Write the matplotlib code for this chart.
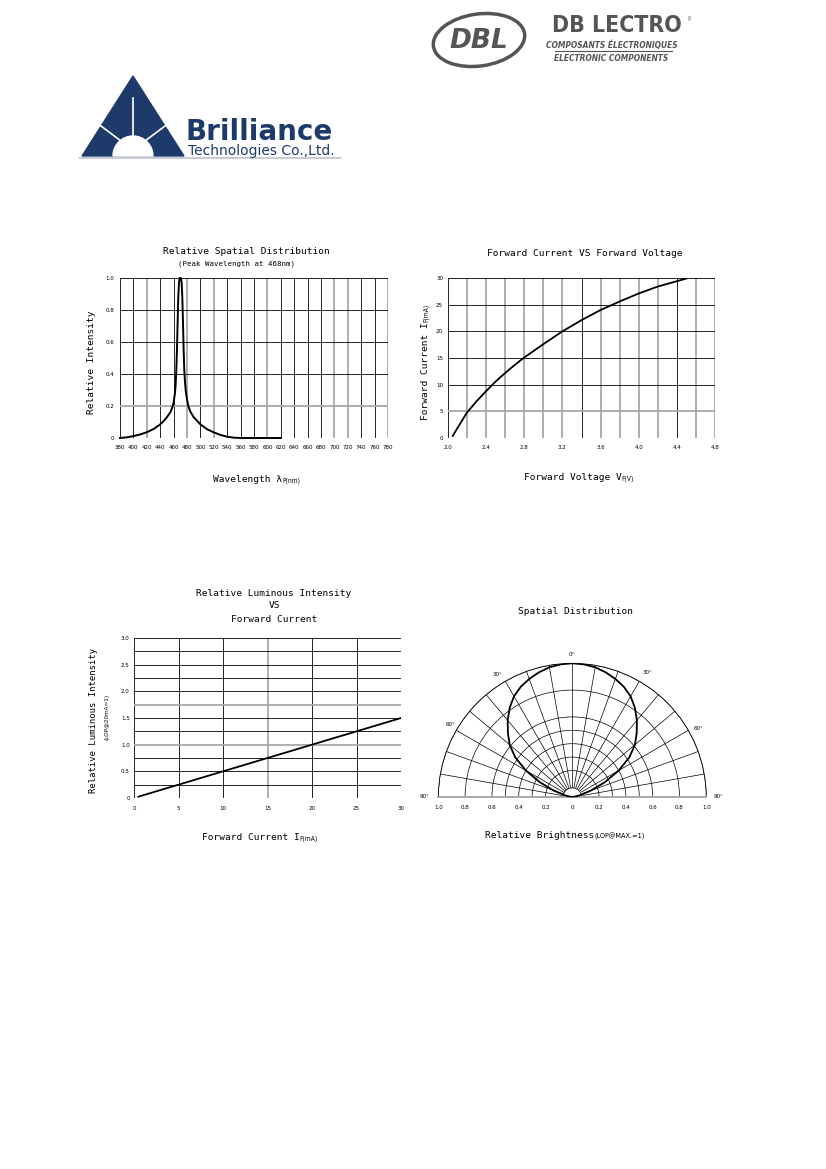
import numpy as np
import matplotlib
matplotlib.use('Agg')
import matplotlib.pyplot as plt
from matplotlib.patches import Polygon, Ellipse, Wedge

W, H = 826, 1169

# 1. 光谱分布
wavelength = [380, 390, 400, 410, 420, 430, 440, 445, 450, 455,
              458, 460, 462, 463, 464, 465, 466, 467, 468, 469,
              470, 471, 472, 473, 474, 475, 476, 477, 478, 480,
              482, 485, 490, 500, 510, 520, 530, 540, 550, 560,
              580, 600, 620]
rel_intensity = [0.0, 0.004, 0.012, 0.022, 0.036, 0.056, 0.085, 0.105, 0.13, 0.16,
                 0.19, 0.22, 0.28, 0.33, 0.42, 0.55, 0.72, 0.88, 0.97, 1.0,
                 1.0, 1.0, 0.97, 0.88, 0.72, 0.55, 0.42, 0.35, 0.30, 0.24,
                 0.20, 0.165, 0.13, 0.085, 0.055, 0.035, 0.019, 0.008, 0.002, 0.0,
                 0.0, 0.0, 0.0]

# 2. 正向电流 vs 正向电压
vf = [2.05, 2.1, 2.2, 2.3, 2.4, 2.5, 2.6, 2.7, 2.8, 3.0, 3.2, 3.4, 3.6, 3.8, 4.0, 4.2, 4.4, 4.5]
if_ma = [0.4, 1.9, 4.8, 6.9, 8.8, 10.6, 12.2, 13.7, 15.1, 17.6, 20.0, 22.1, 24.0, 25.6, 27.1, 28.4, 29.4, 29.9]

# 3. 相对发光强度 vs 正向电流
if_lum = [0.5, 5, 10, 15, 20, 25, 30]
rel_lum = [0.025, 0.25, 0.5, 0.75, 1.0, 1.25, 1.5]

# 4. 空间分布 (半边, 对称)
angle_deg = [0, 5, 10, 15, 20, 25, 30, 35, 40, 45, 50, 55, 60, 65, 70, 75, 80]
brightness = [1.0, 0.996, 0.985, 0.965, 0.94, 0.91, 0.87, 0.815, 0.75, 0.68,
              0.61, 0.52, 0.40, 0.27, 0.15, 0.055, 0.0]
polar_rings = [0.07, 0.2, 0.3, 0.4, 0.5, 0.6, 0.8, 1.0]
polar_xlabels = ['1.0', '0.8', '0.6', '0.4', '0.2']

MONO = 'DejaVu Sans Mono'
NARROW = 'DejaVu Sans'   # 配合 stretch='condensed'
GRAY = '#a8a8a8'


def px_rect(l, t, r, b):
    return [l / W, 1 - b / H, (r - l) / W, (b - t) / H]


fig = plt.figure(figsize=(W / 100, H / 100), dpi=100)
bg = fig.add_axes([0, 0, 1, 1], zorder=0)
bg.set_xlim(0, W)
bg.set_ylim(H, 0)
bg.axis('off')
renderer = fig.canvas.get_renderer()


def txt(x, y, s, size=6.8, family=MONO, **kw):
    if family == NARROW and 'fontstretch' not in kw:
        kw['fontstretch'] = 'condensed'
    return bg.text(x, y, s, fontsize=size, family=family, **kw)


def mixed_label(x, y, big, small, rotation=0, big_size=6.8, small_size=4.8):
    # 大字 + 下标小字, 横排或竖排
    if rotation == 0:
        t = txt(x, y, big, size=big_size, ha='left', va='baseline')
        bb = t.get_window_extent(renderer)
        x2 = bg.transData.inverted().transform((bb.x1, bb.y0))[0]
        txt(x2, y, small, size=small_size, family=NARROW, ha='left', va='baseline')
    else:
        t = txt(x, y, big, size=big_size, rotation=90, ha='center', va='bottom')
        bb = t.get_window_extent(renderer)
        y2 = bg.transData.inverted().transform((bb.x0, bb.y1))[1]
        txt(x + 1.5, y2, small, size=small_size, family=NARROW, rotation=90, ha='center', va='bottom')


def grid_lines(ax, xs, ys, gray_x, gray_y):
    for v in xs:
        g = any(abs(v - q) < 1e-6 for q in gray_x)
        ax.axvline(v, color=GRAY if g else 'black', lw=1.3 if g else 0.6, zorder=1)
    for v in ys:
        g = any(abs(v - q) < 1e-6 for q in gray_y)
        ax.axhline(v, color=GRAY if g else 'black', lw=1.3 if g else 0.6, zorder=1)


def style_axes(ax, xpad, ypad):
    for s in ax.spines.values():
        s.set_visible(False)
    ax.tick_params(length=0, labelsize=4.4, pad=0)
    ax.tick_params(axis='x', pad=xpad)
    ax.tick_params(axis='y', pad=ypad)
    for lbl in ax.get_xticklabels() + ax.get_yticklabels():
        lbl.set_family(NARROW)
        lbl.set_fontstretch('condensed')


# ---------- logos ----------
NAVY = '#1d3a6b'
bg.add_patch(Polygon([[82, 156], [133, 76], [184, 156]], closed=True, color=NAVY, zorder=2))
bg.add_patch(Wedge((133, 156), 20, 180, 360, color='white', zorder=3))
for dx, dy in [(-40, -30), (40, -30), (0, -52)]:
    bg.plot([133, 133 + dx], [150, 150 + dy], color='white', lw=1.2, zorder=3)
bg.plot([80, 340], [158, 158], color='#c8ccd6', lw=1.5, zorder=2)
txt(186, 140, 'Brilliance', size=20, family='DejaVu Sans', fontstretch='normal', weight='bold',
    color=NAVY, ha='left', va='baseline')
txt(188, 155, 'Technologies Co.,Ltd.', size=10, family='DejaVu Sans', fontstretch='normal',
    color=NAVY, ha='left', va='baseline')

bg.add_patch(Ellipse((479, 40), 92, 52, angle=-8, fill=False, ec='#555555', lw=2.5))
txt(479, 41, 'DBL', size=19, family='DejaVu Sans', fontstretch='normal', weight='bold', style='italic',
    color='#555555', ha='center', va='center')
txt(552, 32, 'DB LECTRO', size=16.5, family=NARROW, weight='bold', color='#555555', ha='left', va='baseline')
txt(688, 18, 'INC', size=3, family=NARROW, color='#555555', rotation=-90, ha='center', va='center')
txt(612, 48, 'COMPOSANTS ÉLECTRONIQUES', size=6, family=NARROW, weight='bold', style='italic',
    color='#555555', ha='center', va='baseline')
bg.plot([555, 672], [51, 51], color='#555555', lw=0.8)
txt(611, 61, 'ELECTRONIC COMPONENTS', size=6, family=NARROW, weight='bold', style='italic',
    color='#555555', ha='center', va='baseline')

# ---------- chart 1 ----------
ax1 = fig.add_axes(px_rect(120, 278, 388, 438), zorder=2)
ax1.set_xlim(380, 780)
ax1.set_ylim(0, 1.0)
ax1.set_xticks(np.arange(380, 781, 20))
ax1.set_yticks([0, 0.2, 0.4, 0.6, 0.8, 1.0])
ax1.set_yticklabels(['0', '0.2', '0.4', '0.6', '0.8', '1.0'])
grid_lines(ax1, np.arange(380, 781, 20), [0, 0.2, 0.4, 0.6, 0.8, 1.0],
           [420, 480, 520, 600, 700, 720, 780], [0.2])
ax1.plot(wavelength, rel_intensity, color='black', lw=1.4, zorder=3, clip_on=False)
style_axes(ax1, 5, 4)

txt(246, 251, 'Relative Spatial Distribution', ha='center', va='center')
txt(237, 264, '(Peak Wavelength at 468nm)', size=5.3, ha='center', va='center')
txt(92, 362, 'Relative Intensity', rotation=90, ha='center', va='center')
mixed_label(213, 482, 'Wavelength λ', 'P(nm)')

# ---------- chart 2 ----------
ax2 = fig.add_axes(px_rect(448, 278, 715, 438), zorder=2)
ax2.set_xlim(2.0, 4.8)
ax2.set_ylim(0, 30)
ax2.set_xticks(np.arange(2.0, 4.81, 0.4))
ax2.set_xticklabels(['2.0', '2.4', '2.8', '3.2', '3.6', '4.0', '4.4', '4.8'])
ax2.set_yticks(np.arange(0, 31, 5))
grid_lines(ax2, np.arange(2.0, 4.81, 0.2), np.arange(0, 31, 5),
           [2.2, 2.4, 2.6, 2.8, 3.0, 3.2, 3.6, 3.8, 4.0, 4.2, 4.6, 4.8], [5])
ax2.plot(vf, if_ma, color='black', lw=1.3, zorder=3)
style_axes(ax2, 5, 3.5)

txt(585, 253, 'Forward Current VS Forward Voltage', ha='center', va='center')
mixed_label(425, 420, 'Forward Current I', 'F(mA)', rotation=90)
mixed_label(524, 480, 'Forward Voltage V', 'F(V)')

# ---------- chart 3 ----------
ax3 = fig.add_axes(px_rect(134, 638, 401, 798), zorder=2)
ax3.set_xlim(0, 30)
ax3.set_ylim(0, 3.0)
ax3.set_xticks(np.arange(0, 31, 5))
ax3.set_yticks(np.arange(0, 3.01, 0.5))
ax3.set_yticklabels(['0', '0.5', '1.0', '1.5', '2.0', '2.5', '3.0'])
grid_lines(ax3, np.arange(0, 31, 5), np.arange(0, 3.01, 0.25), [15], [1.0, 1.75])
ax3.plot(if_lum, rel_lum, color='black', lw=1.3, zorder=3)
style_axes(ax3, 6, 3)

txt(274, 594, 'Relative Luminous Intensity', ha='center', va='center')
txt(274, 606, 'VS', ha='center', va='center')
txt(274, 619, 'Forward Current', ha='center', va='center')
txt(93, 720, 'Relative Luminous Intensity', size=6.4, rotation=90, ha='center', va='center')
txt(107, 717, '(LOP@20mA=1)', size=4.6, family=NARROW, rotation=90, ha='center', va='center')
mixed_label(202, 840, 'Forward Current I', 'F(mA)')

# ---------- chart 4 (polar) ----------
# 半圆会被补成正方形再放进坐标框, 所以框高 = 2 * 半径
ax4 = fig.add_axes(px_rect(438.3, 596.3, 706.3, 864.3), projection='polar', zorder=2)
ax4.set_theta_zero_location('N')
ax4.set_theta_direction(-1)
ax4.set_thetamin(-90)
ax4.set_thetamax(90)
ax4.set_ylim(0, 1.0)
ax4.set_axisbelow(True)
ax4.set_rgrids(polar_rings, labels=[''] * len(polar_rings))
ax4.set_thetagrids(np.arange(-90, 91, 10), labels=[''] * 19)
ax4.grid(True, color='black', lw=0.5)
ax4.spines['polar'].set_linewidth(0.6)
for k in ['start', 'end']:
    ax4.spines[k].set_color(GRAY)
    ax4.spines[k].set_linewidth(1.4)
ax4.spines['inner'].set_visible(False)
th_fill = np.radians(np.linspace(-90, 90, 60))
ax4.fill_between(th_fill, 0, polar_rings[0], color='white', zorder=1)
ax4.plot(th_fill, np.full(60, polar_rings[0]), color='black', lw=0.5, zorder=1.5)

ang = np.array(angle_deg)
br = np.array(brightness)
theta = np.radians(np.concatenate([-ang[::-1], ang[1:]]))
rr = np.concatenate([br[::-1], br[1:]])
ax4.plot(theta, rr, color='black', lw=1.3, zorder=3)

# 底部刻度
for side in [-90, 90]:
    for lbl, rv in zip(polar_xlabels, [1.0, 0.8, 0.6, 0.4, 0.2]):
        ax4.annotate(lbl, xy=(np.radians(side), rv), xytext=(0, -7), textcoords='offset points',
                     ha='center', va='center', fontsize=4.4, family=NARROW, fontstretch='condensed',
                     annotation_clip=False)
ax4.annotate('0', xy=(0, 0), xytext=(0, -7), textcoords='offset points',
             ha='center', va='center', fontsize=4.4, family=NARROW, fontstretch='condensed',
             annotation_clip=False)

txt(575, 611, 'Spatial Distribution', ha='center', va='center')
for s, x, y in [('0°', 572, 655), ('30°', 497, 675), ('30°', 647, 673), ('60°', 451, 725),
                ('60°', 698, 728), ('90°', 425, 797), ('90°', 718, 797)]:
    txt(x, y, s, size=4.4, family=NARROW, ha='center', va='center')
mixed_label(485, 838, 'Relative Brightness', '(LOP@MAX.=1)', small_size=5.2)

fig.savefig('out.png', dpi=100)
